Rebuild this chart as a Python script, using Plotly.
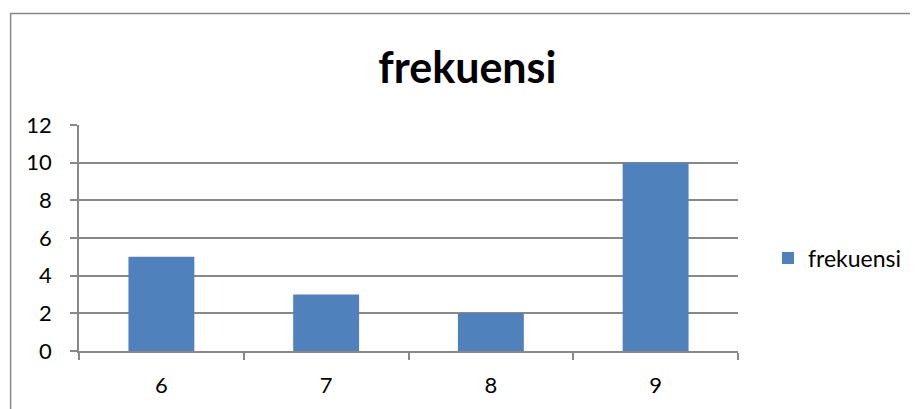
import plotly.graph_objects as go

categories = ["6", "7", "8", "9"]
frekuensi = [5, 3, 2, 10]
y_ticks = [0, 2, 4, 6, 8, 10, 12]

OFF = 8  # page body margin added by write_html
W, H = 918 - OFF, 409 - OFF
L, R, T, B = 79 - OFF, 179, 125 - OFF, 58
pw, ph = W - L - R, H - T - B

def px_x(x):
    return (x - OFF - L) / pw

def px_y(y):
    return (H - B - (y - OFF)) / ph

FONT = "Lato, Liberation Sans, sans-serif"

fig = go.Figure()
fig.add_trace(go.Bar(x=categories, y=frekuensi, name="frekuensi",
                     marker=dict(color="#4F81BD", line=dict(width=0)),
                     showlegend=True))

fig.update_layout(
    width=W, height=H,
    margin=dict(l=L, r=R, t=T, b=B),
    paper_bgcolor="white", plot_bgcolor="white",
    font=dict(family=FONT, size=22, color="#000000"),
    title=dict(text="<b>frekuensi</b>", x=px_x(468), xref="paper", xanchor="center",
               y=1 - (68 - OFF) / H, yanchor="middle",
               font=dict(size=43, family=FONT, color="#000000")),
    bargap=0.6,
    showlegend=True,
    legend=dict(x=px_x(768), xanchor="left", y=px_y(258), yanchor="middle",
                font=dict(size=23), bgcolor="rgba(0,0,0,0)", itemwidth=30),
    xaxis=dict(type="category", tickson="boundaries", ticks="outside", ticklen=7,
               tickcolor="#888888", tickwidth=1.5,
               showline=True, linecolor="#888888", linewidth=1.5,
               showgrid=False, tickfont=dict(size=22), ticklabelstandoff=14),
    yaxis=dict(range=[0, 12], tickvals=y_ticks, ticks="outside", ticklen=7,
               tickcolor="#888888", tickwidth=1.5,
               showline=True, linecolor="#888888", linewidth=1.5,
               showgrid=True, gridcolor="#888888", gridwidth=1.5,
               zeroline=False, tickfont=dict(size=22), ticklabelstandoff=14),
    shapes=[dict(type="rect", xref="paper", yref="paper",
                 x0=px_x(10.5), x1=px_x(930), y0=px_y(420), y1=px_y(13.5),
                 line=dict(color="#888888", width=1.5), fillcolor="rgba(0,0,0,0)",
                 layer="above")],
)

fig.write_html("out.html")
